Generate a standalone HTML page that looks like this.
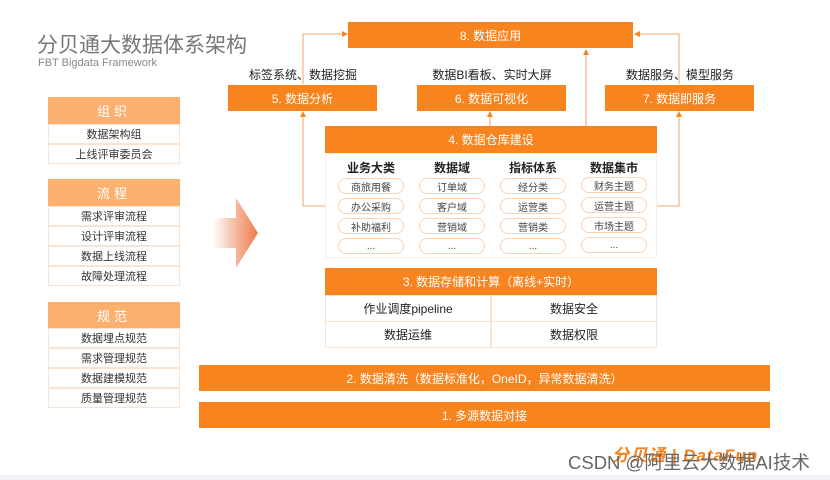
<!DOCTYPE html>
<html><head><meta charset="utf-8"><style>
*{margin:0;padding:0;box-sizing:border-box}
body{width:830px;height:480px;background:#fff;position:relative;overflow:hidden;font-family:"Liberation Sans","Noto Sans CJK SC",sans-serif}
.a{position:absolute}
.ob{position:absolute;background:#f8841f;color:#fff;font-size:12px;display:flex;align-items:center;justify-content:center}
.lh{position:absolute;left:48px;width:132px;height:27px;background:#fbb070;color:#fff;font-size:13px;display:flex;align-items:center;justify-content:center;letter-spacing:4px}
.lr{position:absolute;left:48px;width:132px;height:20px;border:1px solid #fbe3cf;font-size:11px;color:#333;display:flex;align-items:center;justify-content:center;background:#fff}
.lbl{position:absolute;font-size:12px;color:#222;width:160px;text-align:center}
.ch{position:absolute;font-size:12px;font-weight:bold;color:#222;width:80px;text-align:center}
.pill{position:absolute;width:66px;height:16px;border:1.5px solid #fbd3b4;border-radius:8px;font-size:10px;color:#444;display:flex;align-items:center;justify-content:center;background:#fff}
.cell{position:absolute;height:27px;border:1px solid #fbe3cf;font-size:12px;color:#222;display:flex;align-items:center;justify-content:center}
</style></head><body>
<div class="a" style="left:37px;top:29px;font-size:21px;color:#777">分贝通大数据体系架构</div>
<div class="a" style="left:38px;top:57px;font-size:11px;color:#888">FBT Bigdata Framework</div>

<div class="lh" style="top:97px">组织</div>
<div class="lr" style="top:124px">数据架构组</div>
<div class="lr" style="top:144px">上线评审委员会</div>
<div class="lh" style="top:179px">流程</div>
<div class="lr" style="top:206px">需求评审流程</div>
<div class="lr" style="top:226px">设计评审流程</div>
<div class="lr" style="top:246px">数据上线流程</div>
<div class="lr" style="top:266px">故障处理流程</div>
<div class="lh" style="top:302px">规范</div>
<div class="lr" style="top:328px">数据埋点规范</div>
<div class="lr" style="top:348px">需求管理规范</div>
<div class="lr" style="top:368px">数据建模规范</div>
<div class="lr" style="top:388px">质量管理规范</div>

<svg class="a" style="left:0;top:0" width="830" height="480">
<defs><linearGradient id="g" x1="0" x2="1"><stop offset="0" stop-color="#fff"/><stop offset="1" stop-color="#ee7a4a"/></linearGradient></defs>
<polygon points="212,218 236,218 236,198 258,233 236,268 236,248 212,248" fill="url(#g)"/>
<g stroke="#fbb88a" stroke-width="1.3" fill="none">
<polyline points="303,84 303,34 344,34"/>
<polyline points="679,84 679,34 638,34"/>
<line x1="586" y1="126" x2="586" y2="53"/>
<line x1="490" y1="126" x2="490" y2="115"/>
<polyline points="325,206 303,206 303,116"/>
<polyline points="657,206 679,206 679,116"/>
</g>
<g fill="#f8841f">
<polygon points="348,34 342,31 342,37"/>
<polygon points="634,34 640,31 640,37"/>
<polygon points="586,49 583,55 589,55"/>
<polygon points="490,111 487,117 493,117"/>
<polygon points="303,111 300,117 306,117"/>
<polygon points="679,111 676,117 682,117"/>
</g>
</svg>

<div class="ob" style="left:348px;top:22px;width:285px;height:26px">8. 数据应用</div>
<div class="lbl" style="left:223px;top:66px">标签系统、数据挖掘</div>
<div class="lbl" style="left:412px;top:66px">数据BI看板、实时大屏</div>
<div class="lbl" style="left:600px;top:66px">数据服务、模型服务</div>
<div class="ob" style="left:228px;top:85px;width:149px;height:26px">5. 数据分析</div>
<div class="ob" style="left:417px;top:85px;width:149px;height:26px">6. 数据可视化</div>
<div class="ob" style="left:605px;top:85px;width:149px;height:26px">7. 数据即服务</div>

<div class="a" style="left:325px;top:153px;width:332px;height:105px;border:1px solid #fdeee2"></div>
<div class="ob" style="left:325px;top:126px;width:332px;height:27px">4. 数据仓库建设</div>
<div class="ch" style="left:331px;top:159px">业务大类</div>
<div class="ch" style="left:412px;top:159px">数据域</div>
<div class="ch" style="left:493px;top:159px">指标体系</div>
<div class="ch" style="left:574px;top:159px">数据集市</div>
<div class="pill" style="left:338px;top:178px">商旅用餐</div>
<div class="pill" style="left:338px;top:198px">办公采购</div>
<div class="pill" style="left:338px;top:218px">补助福利</div>
<div class="pill" style="left:338px;top:238px">...</div>
<div class="pill" style="left:419px;top:178px">订单域</div>
<div class="pill" style="left:419px;top:198px">客户域</div>
<div class="pill" style="left:419px;top:218px">营销域</div>
<div class="pill" style="left:419px;top:238px">...</div>
<div class="pill" style="left:500px;top:178px">经分类</div>
<div class="pill" style="left:500px;top:198px">运营类</div>
<div class="pill" style="left:500px;top:218px">营销类</div>
<div class="pill" style="left:500px;top:238px">...</div>
<div class="pill" style="left:581px;top:177px">财务主题</div>
<div class="pill" style="left:581px;top:197px">运营主题</div>
<div class="pill" style="left:581px;top:217px">市场主题</div>
<div class="pill" style="left:581px;top:237px">...</div>

<div class="ob" style="left:325px;top:268px;width:332px;height:27px">3. 数据存储和计算（离线+实时）</div>
<div class="cell" style="left:325px;top:295px;width:166px">作业调度pipeline</div>
<div class="cell" style="left:491px;top:295px;width:166px">数据安全</div>
<div class="cell" style="left:325px;top:321px;width:166px">数据运维</div>
<div class="cell" style="left:491px;top:321px;width:166px">数据权限</div>

<div class="ob" style="left:199px;top:365px;width:571px;height:26px">2. 数据清洗（数据标准化，OneID，异常数据清洗）</div>
<div class="ob" style="left:199px;top:402px;width:571px;height:26px">1. 多源数据对接</div>

<div class="a" style="left:612px;top:441px;font-size:17px;font-weight:bold;color:#f5821f;font-style:italic;letter-spacing:1px">分贝通 | DataFun.</div>
<div class="a" style="left:568px;top:449px;font-size:18.5px;color:#666;white-space:nowrap">CSDN @阿里云大数据AI技术</div>
<div class="a" style="left:0;top:475px;width:830px;height:5px;background:#f3f4f8"></div>
</body></html>
